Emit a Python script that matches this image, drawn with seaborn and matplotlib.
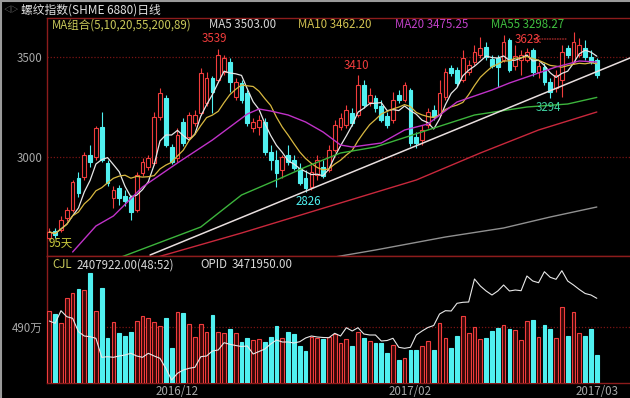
import numpy as np
import pandas as pd
import matplotlib
matplotlib.use("Agg")
import matplotlib.pyplot as plt
import seaborn as sns

# daily candles (price)
opens = [2595, 2630, 2635, 2695, 2735, 2895, 2900, 3010, 3000, 3150,
         2970, 2795, 2845, 2805, 2800, 2735, 2920, 2950, 2970, 3200,
         3295, 3050, 2995, 3175, 3100, 3170, 3220, 3270, 3395, 3385,
         3425, 3475, 3300, 3370, 3320, 3145, 3150, 3175, 3025, 2985,
         2935, 3010, 2985, 2945, 2895, 2850, 2910, 2950, 2935, 3035,
         3150, 3160, 3220, 3210, 3360, 3275, 3295, 3255, 3205, 3185,
         3310, 3285, 3335, 3100, 3085, 3160, 3235, 3210, 3300, 3445,
         3435, 3385, 3425, 3475, 3510, 3550, 3490, 3495, 3485, 3585,
         3455, 3485, 3485, 3535, 3425, 3450, 3375, 3345, 3385, 3545,
         3475, 3510, 3545, 3500, 3485]
closes = [2625, 2610, 2685, 2735, 2875, 2820, 3010, 2975, 3145, 2985,
          2870, 2835, 2795, 2780, 2725, 2910, 2975, 2995, 3200, 3320,
          3060, 2975, 3110, 3070, 3210, 3210, 3420, 3395, 3325, 3510,
          3495, 3375, 3375, 3285, 3170, 3175, 3185, 3025, 2985, 2920,
          3000, 2975, 2945, 2870, 2845, 2925, 2985, 2905, 3035, 3160,
          3195, 3235, 3170, 3360, 3260, 3310, 3245, 3185, 3160, 3285,
          3285, 3360, 3070, 3070, 3135, 3225, 3200, 3320, 3425, 3420,
          3370, 3495, 3460, 3525, 3545, 3500, 3455, 3450, 3575, 3435,
          3505, 3510, 3525, 3425, 3455, 3375, 3325, 3410, 3525, 3510,
          3575, 3560, 3500, 3475, 3410]
highs = [2645, 2645, 2705, 2750, 2885, 2925, 3025, 3060, 3155, 3225,
         2985, 2855, 2860, 2835, 2810, 2925, 2995, 3010, 3225, 3345,
         3310, 3065, 3145, 3195, 3225, 3235, 3445, 3425, 3405, 3539,
         3510, 3495, 3395, 3385, 3335, 3195, 3210, 3195, 3060, 3035,
         3010, 3060, 3010, 2970, 2935, 2960, 3010, 2985, 3060, 3185,
         3220, 3260, 3245, 3410, 3385, 3345, 3310, 3285, 3225, 3325,
         3335, 3375, 3345, 3125, 3160, 3245, 3260, 3385, 3445, 3460,
         3450, 3535, 3485, 3560, 3600, 3575, 3510, 3510, 3610, 3595,
         3560, 3535, 3545, 3545, 3475, 3470, 3395, 3435, 3560, 3560,
         3623, 3595, 3585, 3535, 3495]
lows = [2585, 2595, 2625, 2680, 2725, 2800, 2885, 2950, 2985, 2975,
        2855, 2745, 2760, 2755, 2685, 2725, 2905, 2935, 2960, 3185,
        3050, 2965, 2975, 3055, 3085, 3155, 3210, 3255, 3220, 3375,
        3410, 3325, 3285, 3270, 3155, 3125, 3110, 3010, 2935, 2850,
        2895, 2960, 2935, 2860, 2826, 2835, 2885, 2895, 2925, 3025,
        3135, 3145, 3155, 3200, 3245, 3255, 3225, 3175, 3145, 3170,
        3270, 3275, 3055, 3045, 3060, 3145, 3185, 3200, 3285, 3405,
        3355, 3375, 3410, 3460, 3495, 3485, 3445, 3350, 3475, 3425,
        3435, 3410, 3475, 3405, 3395, 3360, 3294, 3325, 3300, 3495,
        3465, 3500, 3485, 3465, 3395]

# volume (万手) and open interest (万手)
volume = [633, 604, 528, 741, 785, 820, 814, 965, 630, 834,
          391, 531, 435, 411, 444, 543, 586, 566, 531, 499,
          566, 304, 624, 615, 516, 400, 516, 444, 595, 446,
          438, 473, 440, 361, 391, 376, 385, 361, 400, 499,
          391, 444, 429, 324, 283, 405, 391, 385, 400, 429,
          347, 385, 324, 449, 391, 370, 347, 347, 260, 333,
          201, 216, 289, 289, 324, 368, 289, 522, 396, 304,
          411, 586, 440, 493, 385, 391, 455, 484, 508, 470,
          464, 376, 543, 551, 405, 508, 473, 391, 668, 411,
          624, 440, 411, 470, 245]
opid = [324.5, 322.2, 334.8, 328.8, 327.2, 313.8, 309.5, 308.8, 307.2, 288.2,
        288.8, 288.2, 289.5, 290.5, 292.2, 289.5, 288.2, 292.2, 289.5, 287.2,
        277.2, 265.5, 272.2, 275.5, 277.2, 278.2, 288.8, 289.5, 294.5, 295.5,
        302.8, 301.2, 300.0, 299.0, 299.5, 291.5, 294.0, 296.5, 301.5, 305.5,
        303.5, 303.5, 302.5, 303.8, 307.5, 309.5, 308.5, 308.0, 307.8, 312.2,
        309.5, 317.8, 314.5, 317.8, 311.5, 310.5, 310.5, 304.5, 305.0, 307.2,
        298.2, 297.2, 298.2, 310.5, 314.5, 318.0, 320.0, 331.5, 334.8, 334.5,
        342.2, 343.2, 343.5, 366.5, 359.5, 354.5, 350.5, 354.5, 360.5, 354.5,
        355.5, 354.8, 369.5, 364.5, 362.8, 373.8, 368.2, 366.2, 374.8, 364.5,
        360.5, 356.0, 352.0, 350.5, 347.2]

# longer moving averages, read at some bars
ma20_idx = [4, 8, 11, 16, 22, 28, 34, 36, 38, 41, 44, 47, 50, 52, 57, 61, 65, 70, 76, 79, 83, 87, 91, 94]
ma20_val = [2525, 2655, 2705, 2850, 2970, 3085, 3215, 3240, 3230, 3210, 3175, 3125,
            3060, 3050, 3070, 3135, 3165, 3275, 3335, 3370, 3410, 3450, 3480, 3475]
ma55_idx = [11, 26, 33, 39, 44, 50, 56, 65, 73, 82, 89, 94]
ma55_val = [2485, 2650, 2810, 2885, 2950, 3020, 3050, 3135, 3210, 3250, 3265, 3298]
ma89_idx = [18, 33, 46, 63, 74, 84, 94]
ma89_val = [2495, 2620, 2735, 2885, 3020, 3135, 3225]
ma200_idx = [48, 56, 68, 78, 86, 94]
ma200_val = [2495, 2535, 2600, 2645, 2700, 2750]
trend_idx = [17.3, 99.7]
trend_val = [2510, 3495]

date_labels = ["2016/12", "2017/02", "2017/03"]
date_pos = [22, 62, 94]

df = pd.DataFrame({"open": opens, "close": closes, "high": highs, "low": lows,
                   "vol": volume, "opid": opid})
df["i"] = np.arange(len(df))
df["ma5"] = df["close"].rolling(5, min_periods=1).mean()
df["ma10"] = df["close"].rolling(10, min_periods=1).mean()
up = df["close"] >= df["open"]

sns.set_theme(style="dark")
plt.rcParams["font.family"] = ["Noto Sans CJK SC", "DejaVu Sans"]

RED = "#f03c3c"
CYAN = "#50f0f0"
FRAME = "#8c1c1c"
GRAYTXT = "#a8a8a8"
FS = 8.3

fig = plt.figure(figsize=(6.3, 3.98), dpi=100, facecolor="black")
ax = fig.add_axes([47 / 630, 1 - 256 / 398, 583 / 630, 238 / 398])
axv = fig.add_axes([47 / 630, 1 - 383 / 398, 583 / 630, 127 / 398])
for a in (ax, axv):
    a.set_facecolor("black")
    a.set_xlim(-0.4, 99.7)
    a.grid(False)
    for s in a.spines.values():
        s.set_color(FRAME)
        s.set_linewidth(1)
    a.spines["right"].set_visible(False)

# candles
wick_col = np.where(up, RED, CYAN)
ax.vlines(df["i"], df["low"], df["high"], colors=wick_col, linewidth=0.8, zorder=2)
body_bot = np.minimum(df["open"], df["close"])
body_h = np.maximum(np.abs(df["close"] - df["open"]), 4)
ax.bar(df["i"], body_h, bottom=body_bot, width=0.64,
       color=np.where(up, "black", CYAN), edgecolor=wick_col, linewidth=0.8, zorder=3)

# moving averages
sns.lineplot(x=df["i"], y=df["ma5"], ax=ax, color="#e6e6e6", linewidth=0.9, zorder=4)
sns.lineplot(x=df["i"], y=df["ma10"], ax=ax, color="#d8b840", linewidth=0.9, zorder=4)
sns.lineplot(x=ma20_idx, y=ma20_val, ax=ax, color="#c032c8", linewidth=1.0, zorder=4)
sns.lineplot(x=ma55_idx, y=ma55_val, ax=ax, color="#3cb43c", linewidth=1.0, zorder=4)
sns.lineplot(x=ma89_idx, y=ma89_val, ax=ax, color="#c8283c", linewidth=1.0, zorder=4)
sns.lineplot(x=ma200_idx, y=ma200_val, ax=ax, color="#909090", linewidth=1.0, zorder=4)
sns.lineplot(x=trend_idx, y=trend_val, ax=ax, color="#e8dede", linewidth=1.1, zorder=4)

ax.set_ylim(2505, 3695)
ax.set_yticks([3000, 3500])
ax.set_yticklabels(["3000", "3500"])
for y in (3000, 3500):
    ax.axhline(y, color="#7a1414", linewidth=0.9, linestyle=(0, (1, 1.5)), zorder=1)
ax.set_xticks([])
ax.set_xlabel("")
ax.set_ylabel("")
ax.tick_params(axis="y", length=0, pad=3, labelsize=FS, labelcolor=GRAYTXT)

# highs / lows
hi = df["high"].idxmax()
ax.annotate(f"{df.high[29]:.0f}", (29, df.high[29]), xytext=(-3, 3), textcoords="offset points",
            ha="center", va="bottom", color=RED, fontsize=FS, zorder=6)
ax.annotate(f"{df.high[53]:.0f}", (53, df.high[53]), xytext=(-1, 2), textcoords="offset points",
            ha="center", va="bottom", color=RED, fontsize=FS, zorder=6)
ax.annotate(f"{df.low[44]:.0f}", (44, df.low[44]), xytext=(2, -2), textcoords="offset points",
            ha="center", va="top", color=CYAN, fontsize=FS, zorder=6)
ax.annotate(f"{df.low[86]:.0f}", (86, df.low[86]), xytext=(-1, -2), textcoords="offset points",
            ha="center", va="top", color="#40d0a0", fontsize=FS, zorder=6)
ax.annotate(f"{df.high[hi]:.0f}", (hi, df.high[hi]), xytext=(-24, -5), textcoords="offset points",
            ha="right", va="center", color=RED, fontsize=FS, zorder=6)
ax.annotate("", (hi - 7.5, df.high[hi] - 33), xytext=(hi - 0.8, df.high[hi] - 33),
            arrowprops=dict(arrowstyle="->", color=RED, lw=0.7, linestyle=":"), zorder=6)
ax.text(0.003, 0.025, "95天", transform=ax.transAxes, color="#c8c83c", fontsize=FS, va="bottom")

# volume + open interest
axv.bar(df["i"], df["vol"], width=0.64, color=np.where(up, "#3a0808", CYAN),
        edgecolor=np.where(up, RED, CYAN), linewidth=0.8, zorder=3)
axv.set_ylim(0, 1111)
axv.set_yticks([490])
axv.set_yticklabels(["490万"])
axv.axhline(490, color="#7a1414", linewidth=0.9, linestyle=(0, (1, 1.5)), zorder=1)
axv.tick_params(axis="y", length=0, pad=3, labelsize=FS, labelcolor=GRAYTXT)
axv.set_xticks(date_pos)
axv.set_xticklabels(date_labels)
axv.tick_params(axis="x", length=0, pad=1.5, labelsize=FS, labelcolor=GRAYTXT)
axv.set_xlabel("")
axv.set_ylabel("")
axo = axv.twinx()
sns.lineplot(x=df["i"], y=df["opid"], ax=axo, color="#e8e8e8", linewidth=0.8, zorder=5)
axo.set_ylim(262.5, 389.5)
axo.set_xlim(-0.4, 99.7)
axo.set_yticks([])
axo.set_ylabel("")
for s in axo.spines.values():
    s.set_visible(False)

# headers
def ftxt(px, py, s, c, fs=FS):
    fig.text(px / 630, 1 - py / 398, s, color=c, fontsize=fs, va="center", ha="left")

ftxt(3, 10, "◁▷", "#909090", 5.5)
ftxt(21, 10, "螺纹指数(SHME 6880)日线", "#e0e0e0", 8.5)
ftxt(52, 25, "MA组合(5,10,20,55,200,89)", "#c8c85a")
ftxt(209, 25, "MA5 3503.00", "#d8d8d8")
ftxt(298, 25, "MA10 3462.20", "#d0c050")
ftxt(395, 25, "MA20 3475.25", "#c040c8")
ftxt(491, 25, "MA55 3298.27", "#40c040")
ftxt(52, 265, "CJL", "#c8c85a")
ftxt(77, 265, "2407922.00(48:52)", "#d8d8d8")
ftxt(200, 265, "OPID", "#d8d8d8")
ftxt(232, 265, "3471950.00", "#d8d8d8")

# grey frame at top and left edge of the screenshot
fig.add_artist(plt.Line2D([0, 1], [0.998, 0.998], transform=fig.transFigure, color="#9a9a9a", lw=1.5))
fig.add_artist(plt.Line2D([0.0015, 0.0015], [0, 1], transform=fig.transFigure, color="#9a9a9a", lw=1.5))
fig.savefig("out.png", dpi=100, facecolor="black")
